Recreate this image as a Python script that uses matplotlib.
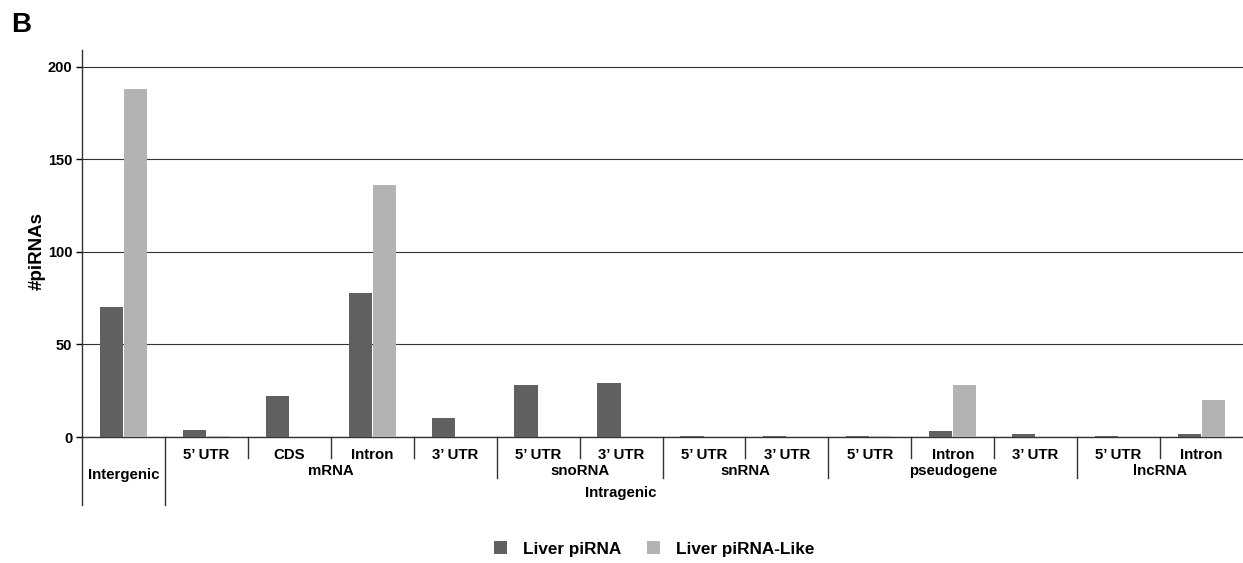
import numpy as np
import matplotlib
matplotlib.use("Agg")
import matplotlib.pyplot as plt
from matplotlib.patches import Patch

plt.rcParams['font.family'] = ['Liberation Sans', 'DejaVu Sans']

# sub-categories along the x axis (one bar pair each)
sub_labels = ["", "5\u2019 UTR", "CDS", "Intron", "3\u2019 UTR", "5\u2019 UTR", "3\u2019 UTR",
              "5\u2019 UTR", "3\u2019 UTR", "5\u2019 UTR", "Intron", "3\u2019 UTR", "5\u2019 UTR", "Intron"]
# parent groups: (name, first index, last index)
groups = [("Intergenic", 0, 0), ("mRNA", 1, 4), ("snoRNA", 5, 6), ("snRNA", 7, 8),
          ("pseudogene", 9, 11), ("lncRNA", 12, 13)]
liver_pirna = [70, 4, 22, 78, 10, 28, 29, 0.6, 0.6, 0.6, 3, 1.5, 0.6, 1.5]
liver_pirna_like = [188, 0.5, 0, 136, 0, 0, 0, 0, 0, 0.4, 28, 0, 0, 20]

dark = "#606060"
light = "#b3b3b3"

fig = plt.figure(figsize=(12.43, 5.63), dpi=100)
ax = fig.add_axes([0.066, 0.2238, 0.934, 0.687])

x = np.arange(len(sub_labels))
w = 0.28
ax.bar(x - 0.145, liver_pirna, w, color=dark, zorder=3)
ax.bar(x + 0.145, liver_pirna_like, w, color=light, zorder=3)

ax.set_xlim(-0.5, len(sub_labels) - 0.5)
ax.set_ylim(0, 209)
ax.set_yticks([0, 50, 100, 150, 200])
ax.tick_params(axis='y', length=4, width=1, colors='black', labelsize=10.5, pad=3)
for t in ax.get_yticklabels():
    t.set_fontweight('bold')
ax.set_xticks([])
ax.yaxis.grid(True, color='#333333', linewidth=0.8, zorder=0)

for s in ["top", "right"]:
    ax.spines[s].set_visible(False)
ax.spines["left"].set_color('#333333')
ax.spines["bottom"].set_color('#333333')
ax.spines["left"].set_linewidth(1.0)
ax.spines["bottom"].set_linewidth(1.0)

ax.set_ylabel("#piRNAs", fontsize=13.5, fontweight='bold', va='center')
ax.yaxis.set_label_coords(-0.0385, 0.48)

trans = ax.get_xaxis_transform()
line_kw = dict(color='#333333', linewidth=1.0, transform=trans, clip_on=False)

# separators between sub-categories
group_starts = {g[1] for g in groups}
for i in range(1, len(sub_labels)):
    if i == 1:
        depth = -0.176
    elif i in group_starts:
        depth = -0.106
    else:
        depth = -0.054
    ax.plot([i - 0.5, i - 0.5], [0, depth], **line_kw)
ax.plot([-0.5, -0.5], [0, -0.176], **line_kw)

for i, lab in enumerate(sub_labels):
    if lab:
        ax.text(i, -0.047, lab, transform=trans, ha='center', va='center',
                fontsize=10.8, fontweight='bold')

for name, a, b in groups:
    yy = -0.098 if name == "Intergenic" else -0.087
    ax.text((a + b) / 2, yy, name, transform=trans, ha='center', va='center',
            fontsize=10.8, fontweight='bold')

ax.text(6, -0.145, "Intragenic", transform=trans, ha='center', va='center',
        fontsize=10.8, fontweight='bold')

handles = [Patch(facecolor=dark, label="Liver piRNA"),
           Patch(facecolor=light, label="Liver piRNA-Like")]
fig.legend(handles=handles, loc='center', bbox_to_anchor=(0.526, 0.025), ncol=2,
           frameon=False, prop={'size': 12.3, 'weight': 'bold'},
           handlelength=0.8, handleheight=0.8, columnspacing=1.5, handletextpad=0.9)

fig.text(0.009, 0.955, "B", fontsize=20, fontweight='bold', va='center')

fig.savefig("out.png", dpi=100)
